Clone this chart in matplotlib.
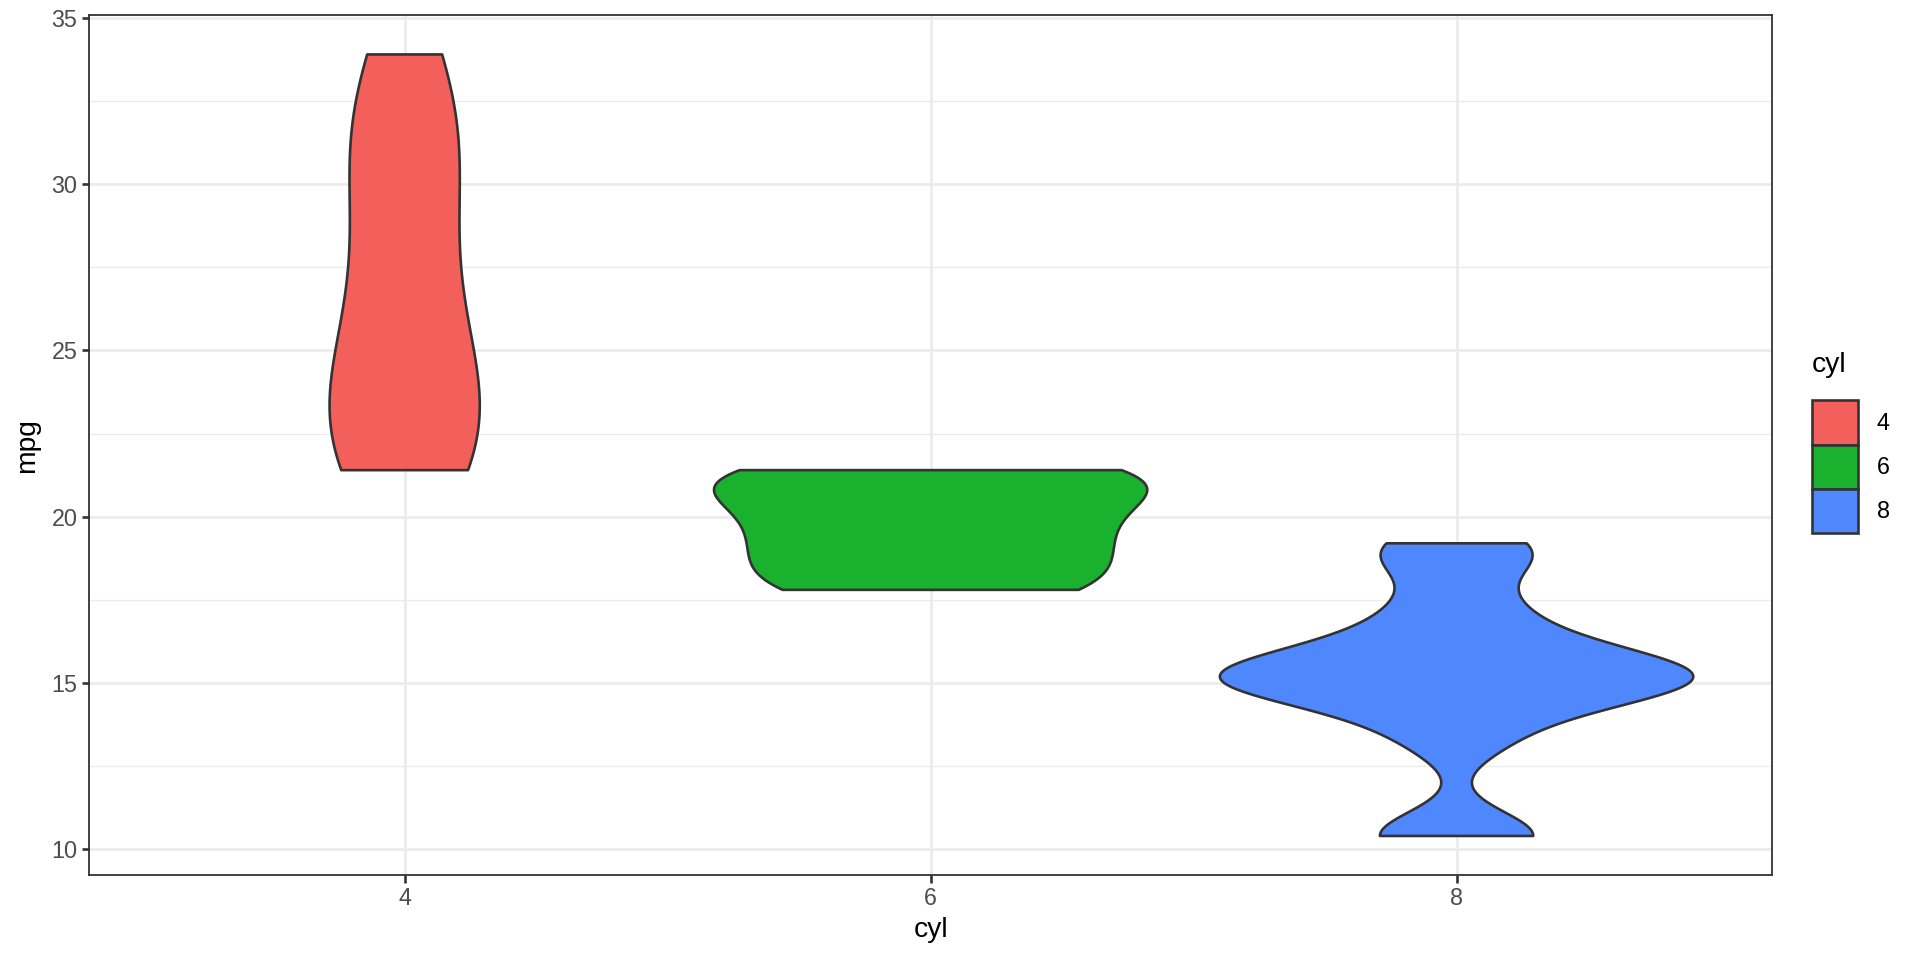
import numpy as np
import matplotlib.pyplot as plt
from matplotlib.patches import Patch

# mtcars mpg by cylinder count
cyl_labels = ["4", "6", "8"]
mpg_4 = [22.8, 24.4, 22.8, 32.4, 30.4, 33.9, 21.5, 27.3, 26.0, 30.4, 21.4]
mpg_6 = [21.0, 21.0, 21.4, 18.1, 19.2, 17.8, 19.7]
mpg_8 = [18.7, 14.3, 16.4, 17.3, 15.2, 10.4, 10.4, 14.7, 15.5, 15.2, 13.3, 19.2, 15.8, 15.0]
fill_colors = ["#F3605B", "#19B12E", "#4F87FF"]

plt.rcParams['font.family'] = ['Liberation Sans', 'DejaVu Sans']


def bw_nrd0(y):
    y = np.asarray(y)
    sd = y.std(ddof=1)
    iqr = np.subtract(*np.percentile(y, [75, 25]))
    lo = min(sd, iqr / 1.34)
    return 0.9 * lo * len(y) ** -0.2


def density(y, n=512):
    y = np.asarray(y)
    bw = bw_nrd0(y)
    grid = np.linspace(y.min(), y.max(), n)
    d = np.exp(-0.5 * ((grid[:, None] - y[None, :]) / bw) ** 2).sum(axis=1)
    d /= len(y) * bw * np.sqrt(2 * np.pi)
    return grid, d


groups = [mpg_4, mpg_6, mpg_8]
dens = [density(g) for g in groups]
max_d = max(d.max() for _, d in dens)

fig = plt.figure(figsize=(19.2, 9.6), dpi=100)
ax = fig.add_axes([0.0464, 0.0885, 0.923 - 0.0464, 0.984 - 0.0885])

for i, ((grid, d), col) in enumerate(zip(dens, fill_colors)):
    pos = i + 1
    half = d / max_d * 0.45
    xs = np.concatenate([pos - half, (pos + half)[::-1]])
    ys = np.concatenate([grid, grid[::-1]])
    ax.fill(xs, ys, facecolor=col, edgecolor="#333333", linewidth=1.9, zorder=3,
            joinstyle="round")

ymin = min(min(g) for g in groups)
ymax = max(max(g) for g in groups)
pad = (ymax - ymin) * 0.05
ax.set_ylim(ymin - pad, ymax + pad)
ax.set_xlim(0.4, 3.6)

ax.set_xticks([1, 2, 3])
ax.set_xticklabels(cyl_labels)
ax.set_yticks([10, 15, 20, 25, 30, 35])
ax.set_yticks([12.5, 17.5, 22.5, 27.5, 32.5], minor=True)
ax.set_xticks([], minor=True)
ax.grid(which="major", color="#EBEBEB", linewidth=1.9, zorder=0)
ax.grid(which="minor", axis="y", color="#EBEBEB", linewidth=0.95, zorder=0)
ax.set_axisbelow(True)
for s in ax.spines.values():
    s.set_color("#333333")
    s.set_linewidth(1.3)
ax.tick_params(which="major", length=5.4, width=1.9, color="#333333",
               labelsize=16.8, labelcolor="#4D4D4D", pad=3)
ax.tick_params(which="minor", length=0)

ax.set_xlabel("cyl", fontsize=20.3, color="black", labelpad=5)
ax.set_ylabel("mpg", fontsize=20.3, color="black", labelpad=8)

handles = [Patch(facecolor=c, edgecolor="#333333", linewidth=1.9) for c in fill_colors]
leg = fig.legend(handles, cyl_labels, title="cyl", loc="upper left",
                 bbox_to_anchor=(1812 / 1920, 1 - 352 / 960), frameon=False,
                 fontsize=16.8, title_fontsize=20.3, handlelength=1.97,
                 handleheight=2.55, labelspacing=0.0, handletextpad=0.8,
                 borderaxespad=0, borderpad=0)
leg._legend_box.align = "left"
leg._legend_box.sep = 16

fig.savefig("out.png", dpi=100, facecolor="white")
